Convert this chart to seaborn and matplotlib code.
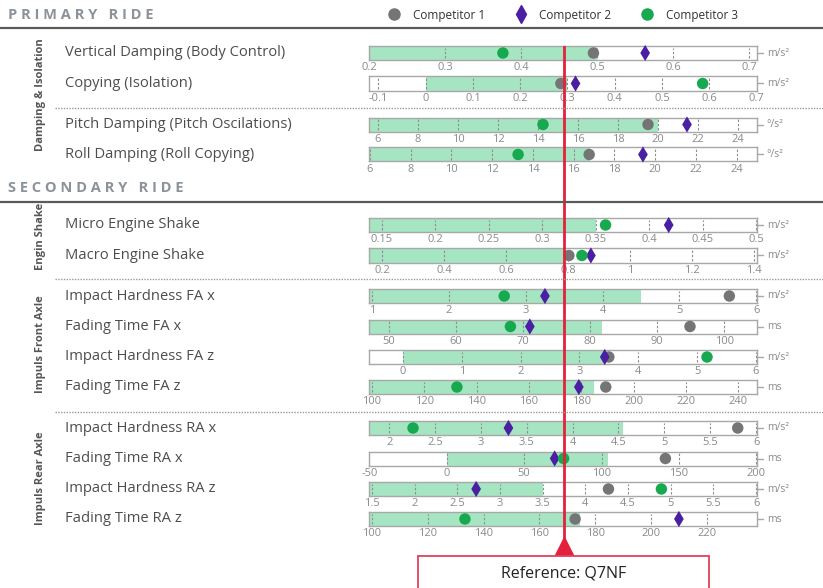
import numpy as np
import pandas as pd
import matplotlib
matplotlib.use("Agg")
import matplotlib.pyplot as plt
import seaborn as sns
from matplotlib.lines import Line2D
from matplotlib.patches import Rectangle

# ---------------- data ----------------
rows = ["Vertical Damping (Body Control)", "Copying (Isolation)",
        "Pitch Damping (Pitch Oscilations)", "Roll Damping (Roll Copying)",
        "Micro Engine Shake", "Macro Engine Shake",
        "Impact Hardness FA x", "Fading Time FA x",
        "Impact Hardness FA z", "Fading Time FA z",
        "Impact Hardness RA x", "Fading Time RA x",
        "Impact Hardness RA z", "Fading Time RA z"]
units = ["m/s²", "m/s²", "°/s²", "°/s²", "m/s²", "m/s²", "m/s²", "ms",
         "m/s²", "ms", "m/s²", "ms", "m/s²", "ms"]

# scale of every gauge
axis_lo = [0.2, -0.12, 5.55, 5.95, 0.138, 0.158, 0.96, 47.0, -0.58, 98.9, 1.78, -50.3, 1.465, 98.9]
axis_hi = [0.71, 0.701, 24.95, 25.0, 0.5005, 1.41, 6.01, 104.9, 6.02, 247.2, 6.01, 200.5, 6.01, 238.0]
ticks = [[0.2, 0.3, 0.4, 0.5, 0.6, 0.7],
         [-0.1, 0, 0.1, 0.2, 0.3, 0.4, 0.5, 0.6, 0.7],
         [6, 8, 10, 12, 14, 16, 18, 20, 22, 24],
         [6, 8, 10, 12, 14, 16, 18, 20, 22, 24],
         [0.15, 0.2, 0.25, 0.3, 0.35, 0.4, 0.45, 0.5],
         [0.2, 0.4, 0.6, 0.8, 1, 1.2, 1.4],
         [1, 2, 3, 4, 5, 6],
         [50, 60, 70, 80, 90, 100],
         [0, 1, 2, 3, 4, 5, 6],
         [100, 120, 140, 160, 180, 200, 220, 240],
         [2, 2.5, 3, 3.5, 4, 4.5, 5, 5.5, 6],
         [-50, 0, 50, 100, 150, 200],
         [1.5, 2, 2.5, 3, 3.5, 4, 4.5, 5, 5.5, 6],
         [100, 120, 140, 160, 180, 200, 220]]

# green target range
range_lo = [0.2, 0.0, 5.55, 5.95, 0.138, 0.158, 0.96, 47.0, 0.0, 98.9, 1.78, 0.0, 1.465, 98.9]
range_hi = [0.5, 0.3, 20.0, 16.8, 0.35, 0.79, 4.5, 81.8, 3.44, 185.0, 4.55, 104.5, 3.5, 174.6]

comp1 = [0.495, 0.286, 19.5, 16.76, np.nan, 0.803, 5.65, 94.9, 3.5, 189.4, 5.80, 141.3, 4.27, 172.8]
comp2 = [0.563, 0.317, 21.45, 19.4, 0.418, 0.874, 3.25, 71.0, 3.43, 179.1, 3.30, 69.7, 2.72, 210.0]
comp3 = [0.376, 0.586, 14.25, 13.27, 0.359, 0.845, 2.72, 68.1, 5.17, 132.5, 2.26, 75.5, 4.89, 133.3]
reference_q7nf = [0.456, 0.293, 15.3, 15.5, 0.320, 0.787, 3.5, 76.1, 2.74, 173.4, 3.91, 75.5, 3.75, 168.8]

groups = ["Damping & Isolation", "Engin Shake", "Impuls Front Axle", "Impuls Rear Axle"]

# ---------------- layout (pixels) ----------------
W, H = 823, 588
row_y = [53, 83.5, 124.5, 154.5, 225, 255.5, 296, 326.5, 357, 387, 428, 458.5, 489, 519]
group_y = [95, 236, 344, 478]
bar_x0, bar_w, bar_h = 369, 388, 14

green_fill = "#a6e5c2"
c_grey, c_purple, c_green = "#757575", "#4a1fa3", "#17a950"
red = "#e3213d"

sns.set_style("white")
plt.rcParams["font.family"] = ["Open Sans", "DejaVu Sans"]

fig = plt.figure(figsize=(W / 100, H / 100), dpi=100)


def fx(px):
    return px / W


def fy(py):
    return 1 - py / H


df = pd.DataFrame({"row": list(range(len(rows))) * 3,
                   "competitor": ["Competitor 1"] * len(rows) + ["Competitor 2"] * len(rows)
                   + ["Competitor 3"] * len(rows),
                   "value": comp1 + comp2 + comp3})
df["y"] = 0.5
palette = {"Competitor 1": c_grey, "Competitor 2": c_purple, "Competitor 3": c_green}
markers = {"Competitor 1": "o", "Competitor 2": "d", "Competitor 3": "o"}

for i, name in enumerate(rows):
    yc = row_y[i]
    ax = fig.add_axes([fx(bar_x0), fy(yc + bar_h / 2), fx(bar_w), bar_h / H])
    ax.set_xlim(axis_lo[i], axis_hi[i])
    ax.set_ylim(0, 1)
    ax.barh(0.5, range_hi[i] - range_lo[i], left=range_lo[i], height=1.0,
            color=green_fill, edgecolor="none", zorder=1)
    tk = [t for t in ticks[i] if axis_lo[i] <= t <= axis_hi[i]]
    ax.vlines(tk, 0.12, 0.88, colors="#8f8f8f", linestyles=(0, (2.2, 1.6)), lw=0.8, zorder=2)
    sub = df[df["row"] == i].dropna()
    sns.scatterplot(data=sub, x="value", y="y", hue="competitor", style="competitor",
                    palette=palette, markers=markers, s=68, edgecolor="none",
                    legend=False, ax=ax, zorder=4, clip_on=False)
    ax.set_xlabel("")
    ax.set_ylabel("")
    ax.set_yticks([])
    ax.set_xticks(ticks[i])
    ax.set_xticklabels([f"{t:g}" for t in ticks[i]])
    ax.tick_params(axis="x", length=0, pad=1.5, labelsize=8, labelcolor="#8a8a8a")
    for s in ax.spines.values():
        s.set_color("#a8a8a8")
        s.set_linewidth(1.0)
    ax.plot([1.0, 1.015], [0.5, 0.5], transform=ax.transAxes, color="#a8a8a8",
            lw=1, clip_on=False)
    ax.text(1.025, 0.5, units[i], transform=ax.transAxes, va="center", ha="left",
            fontsize=7.5, color="#8a8a8a")
    fig.text(fx(65), fy(yc), name, va="center", ha="left", fontsize=10.6, color="#4d4d4d")

# group labels
for g, gy in zip(groups, group_y):
    fig.text(fx(41), fy(gy), g, rotation=90, va="center", ha="center",
             fontsize=8, fontweight="bold", color="#555555")

# section headers and rules
fig.text(fx(8), fy(15), "P R I M A R Y   R I D E", va="center", ha="left",
         fontsize=10.5, fontweight="bold", color="#8c9299")
fig.text(fx(8), fy(188), "S E C O N D A R Y   R I D E", va="center", ha="left",
         fontsize=10.5, fontweight="bold", color="#8c9299")
for py in [28, 202]:
    fig.add_artist(Line2D([0, 1], [fy(py), fy(py)], color="#5a5a5a", lw=1.6))
for py in [108, 279, 412]:
    fig.add_artist(Line2D([fx(55), 1], [fy(py), fy(py)], color="#9a9a9a", lw=1.0,
                          linestyle=(0, (1, 1))))

# legend
handles = [Line2D([], [], marker="o", ls="none", color=c_grey, markersize=8),
           Line2D([], [], marker="d", ls="none", color=c_purple, markersize=9),
           Line2D([], [], marker="o", ls="none", color=c_green, markersize=8)]
fig.legend(handles, ["Competitor 1", "Competitor 2", "Competitor 3"], ncol=3,
           loc="center", bbox_to_anchor=(fx(560), fy(15)), frameon=False,
           fontsize=8.5, handletextpad=0.6, columnspacing=2.0, labelcolor="#333333")

# reference line (Q7NF)
ax_o = fig.add_axes([fx(bar_x0), fy(555), fx(bar_w), (555 - 46) / H])
ax_o.set_xlim(axis_lo[0], axis_hi[0])
ax_o.set_ylim(0, 1)
ax_o.axis("off")
ax_o.axvline(reference_q7nf[0], color=red, lw=2, zorder=5)
ax_o.plot(reference_q7nf[0], 8 / 509, marker="^", markersize=14, color=red,
          clip_on=False, zorder=6)
fig.add_artist(Rectangle((fx(418), -0.02), fx(291), fy(556) + 0.02, facecolor="white",
                         edgecolor="#e2415f", lw=1.3, transform=fig.transFigure, zorder=1))
ref_x = ax_o.transData.transform((reference_q7nf[0], 0))[0] / W
fig.text(ref_x, fy(574), "Reference: Q7NF", ha="center", va="center",
         fontsize=11.5, color="#222222", zorder=10)

fig.savefig("out.png", dpi=100)
